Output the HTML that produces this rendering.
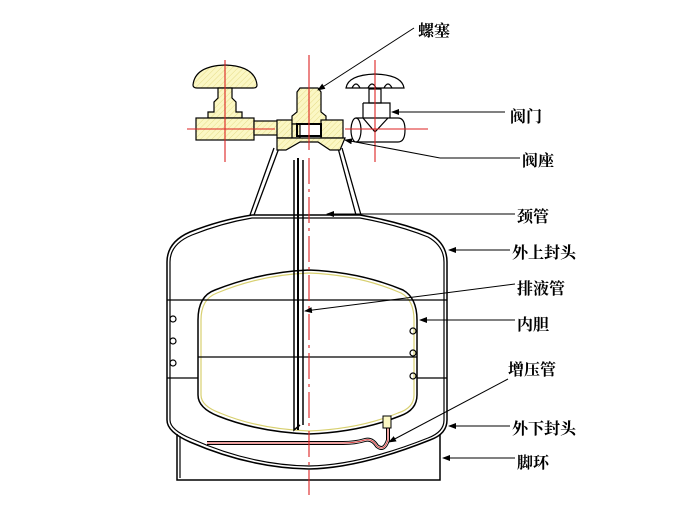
<!DOCTYPE html>
<html><head><meta charset="utf-8"><style>
html,body{margin:0;padding:0;background:#fff;}
svg{display:block;}
text{font-family:"Liberation Serif","Noto Serif CJK SC","Noto Sans CJK SC",serif;font-weight:bold;font-size:16px;fill:#000;}
</style></head><body>
<svg width="681" height="507" viewBox="0 0 681 507" xmlns="http://www.w3.org/2000/svg">
<defs>
<pattern id="h" width="4" height="4" patternUnits="userSpaceOnUse" patternTransform="rotate(45)">
<rect width="4" height="4" fill="#fbf7c4"/><line x1="0" y1="0" x2="0" y2="4" stroke="#e6dc8a" stroke-width="1"/>
</pattern>
<marker id="a" markerWidth="8" markerHeight="6" refX="7" refY="3" orient="auto"><path d="M0,0L8,3L0,6z" fill="#000"/></marker>
</defs>
<g fill="none" stroke="#000" stroke-width="1.2">
<path d="M177,434 V480 H440 V434" stroke-width="1.5"/>
<path d="M180,436 V478"/>
<path d="M167,262 Q167,242 190,232 Q220,220 252,215 H360 Q400,222 430,234 Q447,244 447,262 V420 Q447,434 430,440 Q360,468 309,469 Q250,468 190,442 Q167,432 167,420 Z" stroke-width="1.5"/>
<path d="M170,262 Q170,244 192,235 Q222,223 252,218 H360 Q398,225 428,237 Q444,246 444,262 V420 Q444,432 428,438 Q360,465 309,466 Q250,465 192,439 Q170,430 170,420 Z"/>
<path d="M198,320 Q198,296 215,290 Q260,272 309,270 Q360,272 403,290 Q417,298 417,320 V395 Q417,410 400,416 Q360,432 309,434 Q258,432 218,416 Q198,408 198,395 Z" stroke-width="1.5"/>
<path d="M201,320 Q201,299 217,293 Q260,275 309,273 Q360,275 401,293 Q414,300 414,320 V395 Q414,408 398,413 Q360,429 309,431 Q258,429 220,413 Q201,406 201,395 Z" stroke="#d8d070"/>
<line x1="167" y1="300" x2="447" y2="300"/>
<line x1="198" y1="357" x2="417" y2="357"/>
<line x1="167" y1="378" x2="198" y2="378"/>
<line x1="417" y1="378" x2="447" y2="378"/>
<path d="M274,148 L250,215 M279,148 L254,215 M338,148 L356,215 M342,148 L361,215" stroke-width="1.3"/>
<path d="M294,160 V430 L300,425 M303,160 V425" stroke-width="1.5"/>
<path d="M298,158 V430" stroke-width="2"/>
<g stroke="#000"><circle cx="173" cy="319" r="3"/><circle cx="173" cy="341" r="3"/><circle cx="173" cy="363" r="3"/>
<circle cx="413" cy="331" r="3"/><circle cx="413" cy="353" r="3"/><circle cx="413" cy="376" r="3"/></g>
</g>
<path d="M207,443 H343 Q355,443 365,440 Q372,438 377,446 Q384,452 388,440 V416" fill="none" stroke="#000" stroke-width="4"/>
<path d="M207,443 H343 Q355,443 365,440 Q372,438 377,446 Q384,452 388,440 V416" fill="none" stroke="#fff" stroke-width="2"/>
<path d="M207,443 H343 Q355,443 365,440 Q372,438 377,446 Q384,452 388,440 V416" fill="none" stroke="#d44" stroke-width="1"/>
<rect x="383" y="416" width="8" height="12" fill="#fbf7c4" stroke="#000"/>
<g stroke="#000" stroke-width="1.2" fill="url(#h)">
<path d="M193,85 Q195,66 225,65 Q255,66 257,85 Q257,88 253,88 H197 Q193,88 193,85Z"/>
<path d="M218,88 H232 V98 L236,102 V112 H242 V118 H208 V112 H214 V102 L218,98Z"/>
<rect x="196" y="118" width="58" height="22"/>
<rect x="254" y="121" width="30" height="14"/>
<rect x="277" y="120" width="20" height="18"/>
<path d="M297,92 L300,88 H318 L321,92 V112 L326,116 V124 H292 V116 L297,112Z"/>
<rect x="292" y="124" width="8" height="14"/>
<rect x="321" y="120" width="22" height="18"/>
<path d="M277,138 H345 L340,150 H330 L318,142 H300 L286,150 H277Z"/>
</g>
<rect x="297" y="124" width="24" height="12" fill="none" stroke="#000" stroke-width="2"/>
<g stroke="#000" stroke-width="1.2" fill="none">
<path d="M346,88 Q348,75 375,74 Q402,75 404,88 Z"/>
<path d="M352,88 Q356,80 360,88 M368,88 Q372,80 376,88 M384,88 Q388,80 392,88"/>
<rect x="369" y="89" width="12" height="14"/>
<path d="M363,103 H390 V118 M363,103 V118"/>
<path d="M356,118 H398 Q405,118 405,130 Q405,142 398,142 H356"/>
<ellipse cx="356" cy="130" rx="5" ry="12"/>
<path d="M363,118 L375,132 L388,118"/>
</g>
<g stroke="#d22" stroke-width="1.1" fill="none">
<line x1="309" y1="55" x2="309" y2="150"/>
<line x1="309" y1="158" x2="309" y2="495" stroke-dasharray="26,5,3,5"/>
<line x1="225" y1="60" x2="225" y2="162"/>
<line x1="187" y1="129" x2="275" y2="129"/>
<line x1="375" y1="60" x2="375" y2="162"/>
<line x1="345" y1="129" x2="428" y2="129"/>
</g>
<g stroke="#000" stroke-width="1" fill="none" marker-end="url(#a)">
<line x1="414" y1="28" x2="318" y2="90"/>
<line x1="505" y1="112" x2="392" y2="112"/>
<line x1="520" y1="158" x2="440" y2="158" marker-end="none"/>
<line x1="440" y1="158" x2="345" y2="140"/>
<line x1="515" y1="214" x2="327" y2="214"/>
<line x1="510" y1="250" x2="449" y2="250"/>
<line x1="515" y1="284" x2="305" y2="311"/>
<line x1="515" y1="320" x2="420" y2="320"/>
<line x1="508" y1="379" x2="389" y2="442"/>
<line x1="510" y1="426" x2="449" y2="426"/>
<line x1="515" y1="458" x2="443" y2="458"/>
</g>
<text x="418" y="36">螺塞</text>
<text x="510" y="122">阀门</text>
<text x="522" y="166">阀座</text>
<text x="517" y="222">颈管</text>
<text x="512" y="258">外上封头</text>
<text x="517" y="294">排液管</text>
<text x="517" y="330">内胆</text>
<text x="508" y="375">增压管</text>
<text x="512" y="434">外下封头</text>
<text x="517" y="468">脚环</text>
</svg>
</body></html>
